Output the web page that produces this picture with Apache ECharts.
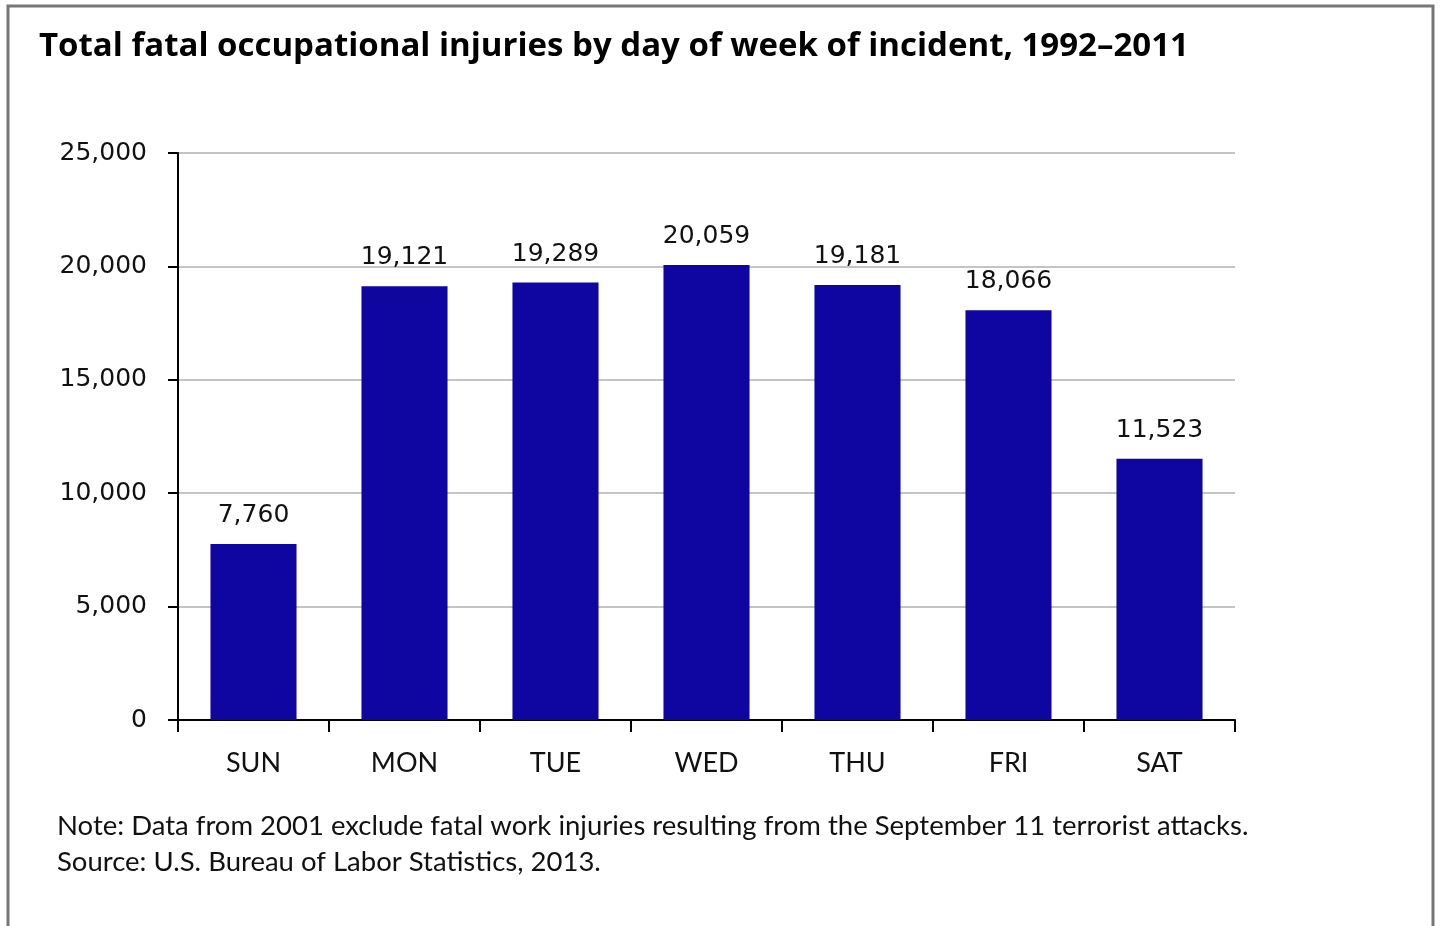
<!DOCTYPE html>
<html lang="en">
<head>
    <meta charset="UTF-8">
    <title>Total fatal occupational injuries by day of week</title>
    <script src="https://cdn.jsdelivr.net/npm/echarts@6/dist/echarts.min.js"></script>
    <style>
        html, body { margin: 0; padding: 0; background: #fff; }
        #chart { width: 1440px; height: 926px; }
    </style>
</head>
<body>
    <div id="chart"></div>
    <script>
        // data
        const days = ['SUN', 'MON', 'TUE', 'WED', 'THU', 'FRI', 'SAT'];
        const injuries = [7760, 19121, 19289, 20059, 19181, 18066, 11523];

        const noteLines = [
            'Note: Data from 2001 exclude fatal work injuries resulting from the September 11 terrorist attacks.',
            'Source: U.S. Bureau of Labor Statistics, 2013.'
        ];

        const font = 'Lato, "Open Sans", sans-serif';
        const numFont = '"DejaVu Sans", sans-serif';
        const fmt = v => v.toLocaleString('en-US');

        const chart = echarts.init(document.getElementById('chart'));

        chart.setOption({
            animation: false,
            title: {
                text: 'Total fatal occupational injuries by day of week of incident, 1992\u20132011',
                left: 34,
                top: 25,
                textStyle: { fontFamily: '"Open Sans", sans-serif', fontWeight: 'bold', fontSize: 33, color: '#000' }
            },
            graphic: [
                {
                    type: 'rect',
                    shape: { x: 8, y: 6, width: 1425, height: 940 },
                    style: { fill: 'none', stroke: '#777', lineWidth: 3 }
                },
                {
                    type: 'text',
                    left: 57,
                    top: 808,
                    style: {
                        text: noteLines.join('\n'),
                        font: '27.5px ' + font,
                        lineHeight: 36,
                        fill: '#111'
                    }
                }
            ],
            grid: { left: 178, right: 205, top: 153, bottom: 206 },
            xAxis: {
                type: 'category',
                data: days,
                axisLine: { lineStyle: { color: '#000', width: 2 } },
                axisTick: { show: true, length: 12, lineStyle: { color: '#000', width: 2 } },
                axisLabel: { margin: 30, fontFamily: font, fontSize: 27, color: '#111' }
            },
            yAxis: {
                type: 'value',
                min: 0,
                max: 25000,
                interval: 5000,
                axisLine: { show: true, lineStyle: { color: '#000', width: 2 } },
                axisTick: { show: true, length: 10, lineStyle: { color: '#000', width: 2 } },
                axisLabel: {
                    margin: 31, fontFamily: numFont, fontSize: 25, color: '#111',
                    padding: [4, 0, 0, 0], formatter: fmt
                },
                splitLine: { lineStyle: { color: '#c4c4c4', width: 2 } }
            },
            series: [
                {
                    type: 'bar',
                    data: injuries,
                    barWidth: '57%',
                    itemStyle: { color: '#0f05a0' },
                    label: {
                        show: true,
                        position: 'top',
                        distance: 16,
                        fontFamily: numFont,
                        fontSize: 25,
                        color: '#111',
                        formatter: p => fmt(p.value)
                    }
                }
            ]
        });
    </script>
</body>
</html>
